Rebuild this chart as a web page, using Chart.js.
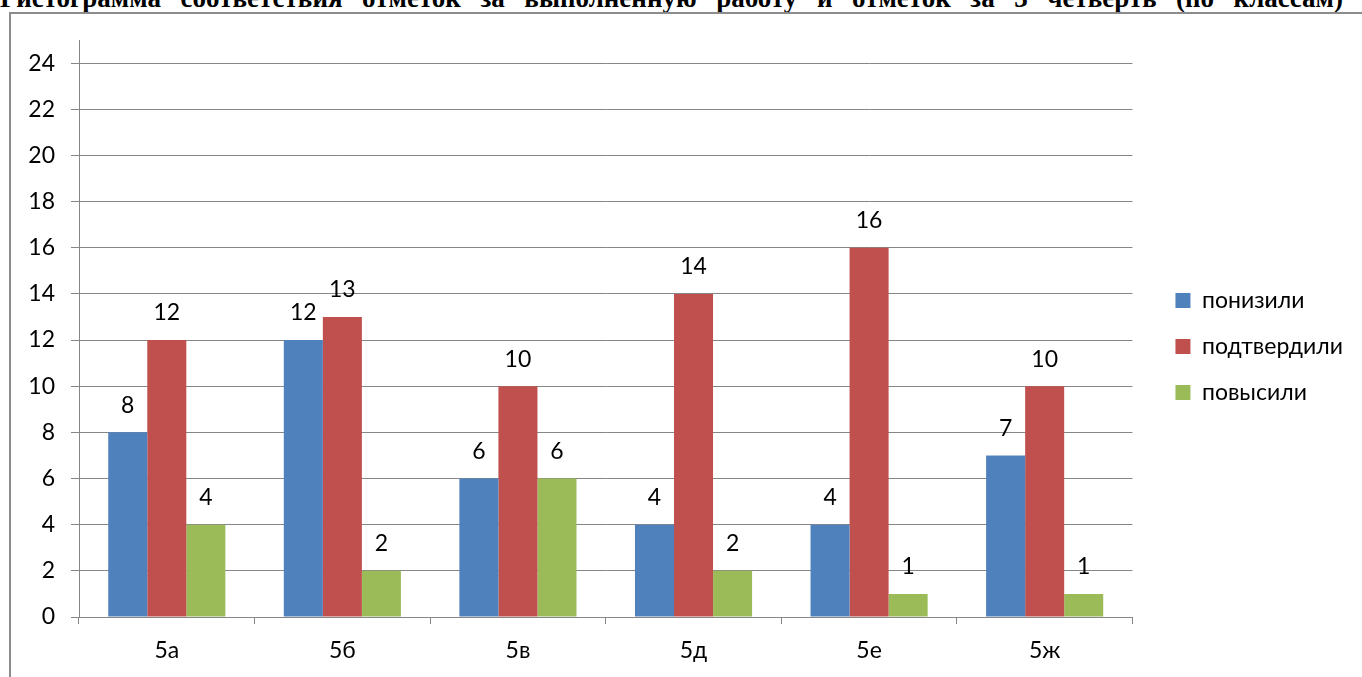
<!DOCTYPE html>
<html>
<head>
<meta charset="utf-8">
<script src="https://cdn.jsdelivr.net/npm/chart.js@4"></script>
<style>
  body { margin: 0; width: 1362px; height: 677px; overflow: hidden; background: #fff; position: relative; }
  #titulo { position: absolute; left: 0; top: -15px; font: bold 27px/27px "Liberation Serif", serif;
    white-space: nowrap; color: #000; }
  #caja { position: absolute; left: 9px; top: 12px; width: 1353px; height: 665px;
    border-left: 2px solid #8c8c8c; border-top: 2px solid #8c8c8c; }
  canvas { display: block; }
</style>
</head>
<body>
<div id="titulo">Гистограмма соответствия отметок за выполненную работу и отметок за 3 четверть (по классам)</div>
<div id="caja"><canvas id="grafica" width="1351" height="663"></canvas></div>
<script>
const clases = ['5а', '5б', '5в', '5д', '5е', '5ж'];
const ponizili = [8, 12, 6, 4, 4, 7];
const podtverdili = [12, 13, 10, 14, 16, 10];
const povysili = [4, 2, 6, 2, 1, 1];
const marcasY = [0, 2, 4, 6, 8, 10, 12, 14, 16, 18, 20, 22, 24];

// ajustar el titulo al ancho
const titulo = document.getElementById('titulo');
const ancho = titulo.getBoundingClientRect().width;
titulo.style.wordSpacing = ((1343 - ancho) / 12) + 'px';

const fuente = 'Lato, "Open Sans", sans-serif';
const tam = 23;
const gris = '#868686';

// etiquetas encima de cada barra
const etiquetas = {
    id: 'etiquetas',
    afterDatasetsDraw(chart) {
        const ctx = chart.ctx;
        ctx.save();
        ctx.font = tam + 'px ' + fuente;
        ctx.fillStyle = '#000';
        ctx.textAlign = 'center';
        ctx.textBaseline = 'middle';
        chart.data.datasets.forEach((ds, i) => {
            chart.getDatasetMeta(i).data.forEach((bar, j) => {
                ctx.fillText(ds.data[j], bar.x, bar.y - 27);
            });
        });
        ctx.restore();
    }
};

new Chart(document.getElementById('grafica'), {
    type: 'bar',
    data: {
        labels: clases,
        datasets: [
            { label: 'понизили', data: ponizili, backgroundColor: '#4F81BD' },
            { label: 'подтвердили', data: podtverdili, backgroundColor: '#C0504D' },
            { label: 'повысили', data: povysili, backgroundColor: '#9BBB59' }
        ]
    },
    options: {
        responsive: false,
        animation: false,
        categoryPercentage: 0.667,
        barPercentage: 1,
        layout: { padding: { top: 26, left: 0, right: 9, bottom: 0 } },
        plugins: {
            tooltip: { enabled: false },
            legend: {
                position: 'right',
                align: 'start',
                title: { display: true, text: ' ', font: { size: 10, lineHeight: 1 }, padding: { top: 0, bottom: 216 } },
                labels: {
                    font: { size: tam, family: fuente },
                    color: '#000',
                    boxWidth: 15,
                    boxHeight: 15,
                    padding: 23
                }
            }
        },
        scales: {
            x: {
                grid: { drawOnChartArea: false, color: gris, tickLength: 7, offset: true },
                border: { color: gris },
                ticks: { font: { size: tam, family: fuente }, color: '#000', padding: 13 },
                afterFit: s => { s.height = 60; }
            },
            y: {
                min: 0,
                max: 25,
                ticks: { autoSkip: false, font: { size: tam, family: fuente }, color: '#000', padding: 16 },
                grid: { color: gris, tickLength: 8 },
                border: { color: gris },
                afterBuildTicks: s => { s.ticks = marcasY.map(v => ({ value: v })); },
                afterFit: s => { s.width = 68; s.paddingTop = 0; }
            },
            // espacio vacio entre el area y la leyenda
            hueco: {
                type: 'linear',
                position: 'right',
                grid: { display: false },
                border: { display: false },
                ticks: { display: false },
                afterFit: s => { s.width = 20; }
            }
        }
    },
    plugins: [etiquetas]
});
</script>
</body>
</html>
